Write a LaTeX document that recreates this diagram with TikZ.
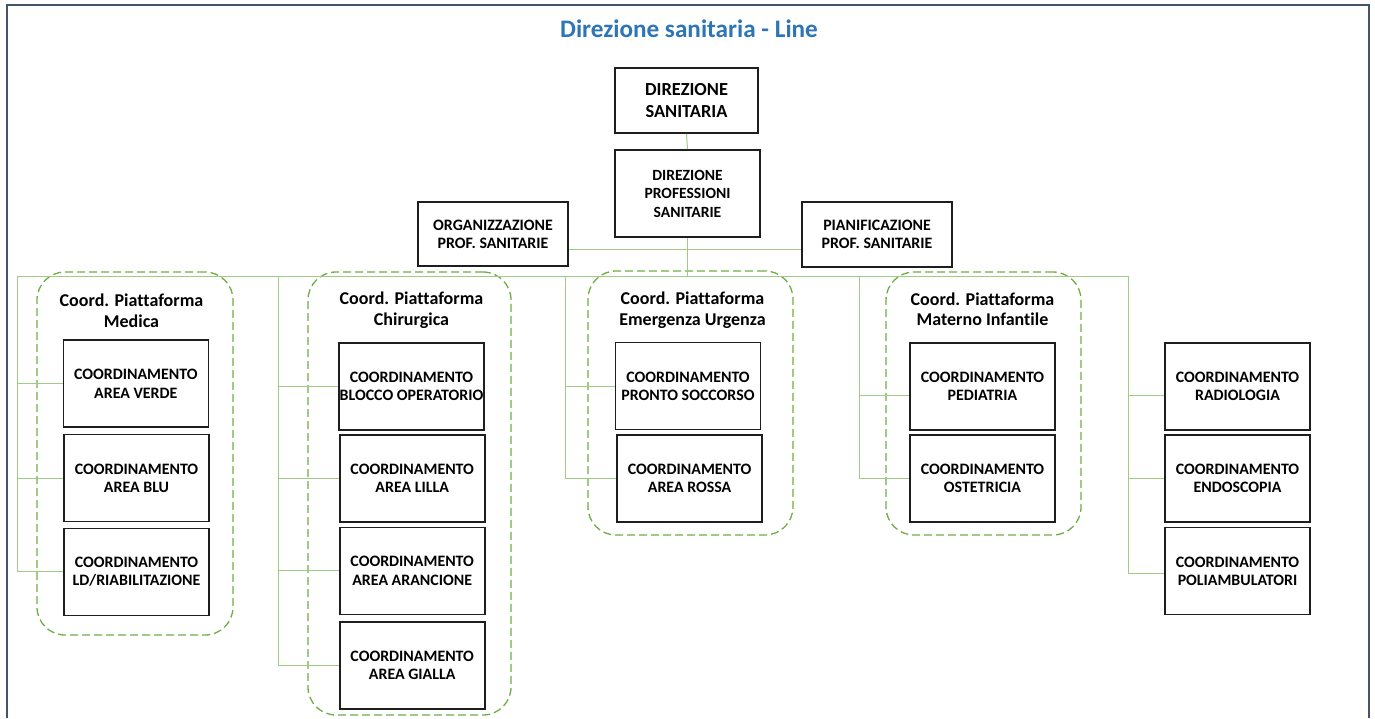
\documentclass[tikz,border=0pt]{standalone}
\usepackage{fontspec}
\setmainfont[Ligatures={NoCommon}]{Carlito}
\definecolor{framec}{RGB}{68,84,106}
\definecolor{titlec}{RGB}{46,117,182}
\definecolor{connc}{RGB}{160,203,130}
\definecolor{grpc}{RGB}{112,173,71}
\definecolor{boxc}{RGB}{30,30,30}
\begin{document}
\begin{tikzpicture}[x=1pt,y=-1pt,
  frame/.style={draw=framec,line width=2pt},
  conn/.style={draw=connc,line width=1pt},
  grp/.style={draw=grpc,line width=1.3pt,dash pattern=on 8pt off 4pt,rounded corners=28pt,rectangle,inner sep=0pt},
  box/.style={draw=boxc,line width=1.6pt,fill=white,rectangle,align=center,inner sep=0pt,
    minimum width=145pt,minimum height=87pt,font=\bfseries\fontsize{15.9}{18.3}\selectfont},
  grptitle/.style={align=center,font=\bfseries\fontsize{18}{20.5}\selectfont,inner sep=0pt},
  titlestyle/.style={text=titlec,font=\bfseries\fontsize{25.2}{28}\selectfont,inner sep=0pt}]
\useasboundingbox (0,0) rectangle (1375,718);
\draw[frame] (7,718) -- (7,5) -- (1369,5) -- (1369,718);
\node[titlestyle] (title) at (689,29) {Direzione sanitaria - Line};

% top boxes
\node[box,minimum width=143pt,minimum height=65pt,font=\bfseries\fontsize{18.4}{22.5}\selectfont] (ds) at (686.5,100.5) {DIREZIONE\\SANITARIA};
\node[box,minimum width=145pt,minimum height=87pt,font=\bfseries\fontsize{15.6}{18.5}\selectfont] (dps) at (687.5,193.5) {DIREZIONE\\PROFESSIONI\\SANITARIE};
\node[box,minimum width=150pt,minimum height=64pt] (org) at (493,234) {ORGANIZZAZIONE\\PROF. SANITARIE};
\node[box,minimum width=150pt,minimum height=65pt] (pian) at (877,234.5) {PIANIFICAZIONE\\PROF. SANITARIE};

% bus coordinates
\coordinate (busL) at (17,276);
\coordinate (busR) at (1128,276);
\coordinate (dC) at (278.5,276);
\coordinate (dE) at (565,276);
\coordinate (dI) at (859,276);

% groups
\node[grp,minimum width=196pt,minimum height=363pt] (gM) at (135,453.5) {};
\node[grp,minimum width=203pt,minimum height=443pt] (gC) at (409.5,493.5) {};
\node[grp,minimum width=205pt,minimum height=264pt] (gE) at (690.5,403) {};
\node[grp,minimum width=195pt,minimum height=263pt] (gI) at (983.5,403.5) {};

\node[grptitle] (tM) at (131.5,310.5) {Coord. Piattaforma\\Medica};
\node[grptitle] (tC) at (411.5,310) {Coord. Piattaforma\\Chirurgica};
\node[grptitle] (tE) at (692.5,310) {Coord. Piattaforma\\Emergenza Urgenza};
\node[grptitle] (tI) at (982.5,309) {Coord. Piattaforma\\Materno Infantile};

% boxes
\node[box] (verde) at (135.8,383.7) {COORDINAMENTO\\AREA VERDE};
\node[box] (blu) at (136.5,478) {COORDINAMENTO\\AREA BLU};
\node[box] (ld) at (136.5,571.8) {COORDINAMENTO\\LD/RIABILITAZIONE};

\node[box] (blocco) at (411.5,386.2) {COORDINAMENTO\\BLOCCO OPERATORIO};
\node[box] (lilla) at (412.2,478.5) {COORDINAMENTO\\AREA LILLA};
\node[box] (aranc) at (412.2,570.8) {COORDINAMENTO\\AREA ARANCIONE};
\node[box] (gialla) at (412.2,665.5) {COORDINAMENTO\\AREA GIALLA};

\node[box] (ps) at (688,386) {COORDINAMENTO\\PRONTO SOCCORSO};
\node[box] (rossa) at (689.6,478.5) {COORDINAMENTO\\AREA ROSSA};

\node[box] (ped) at (982.5,386.2) {COORDINAMENTO\\PEDIATRIA};
\node[box] (ost) at (982.5,478.5) {COORDINAMENTO\\OSTETRICIA};

\node[box] (rad) at (1237.5,386.5) {COORDINAMENTO\\RADIOLOGIA};
\node[box] (endo) at (1237.5,478.5) {COORDINAMENTO\\ENDOSCOPIA};
\node[box] (poli) at (1237.5,571) {COORDINAMENTO\\POLIAMBULATORI};

\coordinate (orgc) at ([yshift=-15pt]org.east);
\coordinate (pedw) at ([yshift=-9pt]ped.west);
\coordinate (radw) at ([yshift=-9pt]rad.west);
\coordinate (poliw) at ([yshift=-2pt]poli.west);

% connectors
\draw[conn] (ds.south) -- (dps.north);
\draw[conn] (orgc) -- (orgc -| pian.west);
\draw[conn] (dps.south) -- (dps.south |- busL);
\draw[conn] (busL) -- (busR);
\draw[conn] (busL) |- (ld.west);
\draw[conn] (busL |- verde.west) -- (verde.west);
\draw[conn] (busL |- blu.west) -- (blu.west);
\draw[conn] (dC) |- (gialla.west);
\draw[conn] (dC |- blocco.west) -- (blocco.west);
\draw[conn] (dC |- lilla.west) -- (lilla.west);
\draw[conn] (dC |- aranc.west) -- (aranc.west);
\draw[conn] (dE) |- (rossa.west);
\draw[conn] (dE |- ps.west) -- (ps.west);
\draw[conn] (dI) |- (ost.west);
\draw[conn] (dI |- pedw) -- (pedw);
\draw[conn] (busR) |- (poliw);
\draw[conn] (busR |- radw) -- (radw);
\draw[conn] (busR |- endo.west) -- (endo.west);
\end{tikzpicture}
\end{document}
